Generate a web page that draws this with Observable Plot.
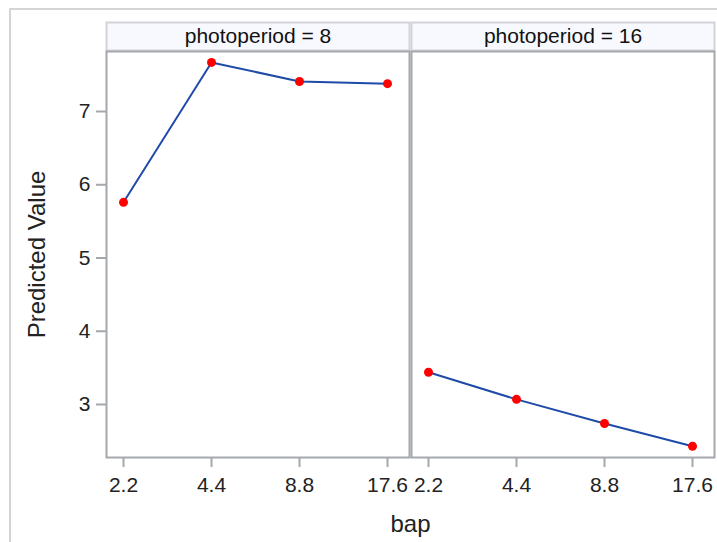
<!DOCTYPE html>
<html>
<head>
<meta charset="utf-8">
<script src="https://cdn.jsdelivr.net/npm/d3@7"></script>
<script src="https://cdn.jsdelivr.net/npm/@observablehq/plot@0.6"></script>
<style>
  html, body { margin: 0; padding: 0; background: #fff; }
  #wrap { position: relative; width: 717px; height: 542px; overflow: hidden; }
  #border { position: absolute; left: 9px; top: 8px; width: 720px; height: 540px;
            border-top: 2px solid #d4d4d4; border-left: 2px solid #d4d4d4; }
  #chart { position: absolute; left: 0; top: 0; }
</style>
</head>
<body>
<div id="wrap"><div id="border"></div><div id="chart"></div></div>
<script>
const photoperiods = [8, 16];
const bapLevels = ["2.2", "4.4", "8.8", "17.6"];
const predicted8 = [5.76, 7.67, 7.41, 7.38];
const predicted16 = [3.44, 3.07, 2.74, 2.43];
const yTicks = [3, 4, 5, 6, 7];

const data = [];
bapLevels.forEach((b, i) => data.push({photoperiod: 8, bap: b, value: predicted8[i]}));
bapLevels.forEach((b, i) => data.push({photoperiod: 16, bap: b, value: predicted16[i]}));

const font = "'Liberation Sans', Arial, sans-serif";
const frameColor = "#a4a8ac";

const chart = Plot.plot({
  width: 717,
  height: 542,
  marginLeft: 106,
  marginRight: 3,
  marginTop: 51,
  marginBottom: 85,
  style: {fontFamily: font, fontSize: "21px", color: "#222", background: "transparent"},
  fx: {domain: photoperiods, paddingInner: 2 / 305, paddingOuter: 0, round: false, axis: null},
  x: {type: "point", domain: bapLevels, padding: 0.2216, align: 0.436, round: false},
  y: {domain: [2.2764, 7.819]},
  marks: [
    // header strip
    Plot.frame({fill: "#f8f9ff", stroke: "#d2d4d8", strokeWidth: 2, insetTop: -29, insetBottom: 407}),
    Plot.text(photoperiods, {fx: d => d, text: d => `photoperiod = ${d}`, frameAnchor: "top", dy: -15, lineAnchor: "middle", fontSize: 21, fill: "#111"}),
    Plot.frame({stroke: frameColor, strokeWidth: 2}),
    Plot.axisY({ticks: yTicks, tickFormat: d3.format("d"), tickSize: 10, tickPadding: 6, stroke: frameColor, strokeWidth: 2, fontSize: 21, label: null, fill: "#222"}),
    Plot.axisX({tickSize: 10, tickPadding: 10, stroke: frameColor, strokeWidth: 2, fontSize: 21, label: null, fill: "#222"}),
    Plot.line(data, {fx: "photoperiod", x: "bap", y: "value", stroke: "#1f4ba8", strokeWidth: 2}),
    Plot.dot(data, {fx: "photoperiod", x: "bap", y: "value", r: 4.5, fill: "#ff0000", stroke: "none"}),
    Plot.text(["Predicted Value"], {facet: "super", frameAnchor: "left", dx: -69, rotate: -90, textAnchor: "middle", lineAnchor: "middle", fontSize: 24, fill: "#222"}),
    Plot.text(["bap"], {facet: "super", frameAnchor: "bottom", dy: 67, textAnchor: "middle", lineAnchor: "middle", fontSize: 24, fill: "#222"})
  ]
});
document.getElementById("chart").appendChild(chart);
</script>
</body>
</html>
